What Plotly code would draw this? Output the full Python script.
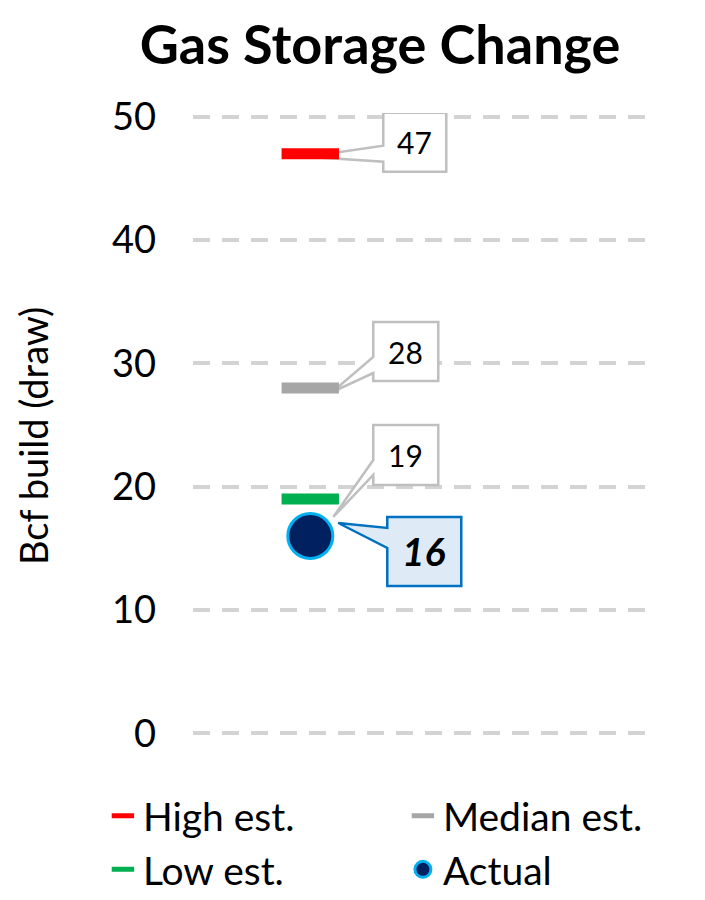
import plotly.graph_objects as go

# ---- data ----
series_names = ["High est.", "Median est.", "Low est.", "Actual"]
series_values = [47, 28, 19, 16]
x_pos = [0]
y_ticks = [0, 10, 20, 30, 40, 50]
title_text = "Gas Storage Change"
y_title = "Bcf build (draw)"

# ---- styles ----
FONT = "Lato"
colors = ["#ff0000", "#a6a6a6", "#00b050", "#002060"]

# callout geometry, pixel offsets relative to the data point (y up):
# box x0, x1, ytop, ybot ; wedge base y high, low ; tip x, y
callouts = [
    dict(box=(73, 136, 41, -18), wb=(8, -8), tip=(-3, -3), line="#bfbfbf", fill="white",
         font=dict(family=FONT, size=30, color="black"), txt="{}"),
    dict(box=(63, 128, 66, 7), wb=(31, 15), tip=(22, -4), line="#bfbfbf", fill="white",
         font=dict(family=FONT, size=30, color="black"), txt="{}"),
    dict(box=(63, 128, 74, 14), wb=(39, 24), tip=(23, -18), line="#bfbfbf", fill="white",
         font=dict(family=FONT, size=30, color="black"), txt="{}"),
    dict(box=(77, 151, 19, -50), wb=(8, -12), tip=(28, 13), line="#0070c0", fill="#deebf7",
         font=dict(family=FONT, size=39, color="black"), txt="<b><i>{}</i></b>"),
]

fig = go.Figure()

for i, (name, val) in enumerate(zip(series_names, series_values)):
    if name == "Actual":
        marker = dict(symbol="circle", size=45, color=colors[i],
                      line=dict(color="#00b0f0", width=3))
    else:
        marker = dict(symbol="line-ew", size=41, color=colors[i],
                      line=dict(color=colors[i], width=11))
    fig.add_trace(go.Scatter(x=x_pos, y=[val], mode="markers", name=name,
                             marker=marker, hoverinfo="skip"))

shapes = []
annotations = []
for c, val in zip(callouts, series_values):
    x0, x1, yt, yb = c["box"]
    wh, wl = c["wb"]
    tx, ty = c["tip"]
    path = (f"M {x0},{yt} L {x1},{yt} L {x1},{yb} L {x0},{yb} "
            f"L {x0},{wl} L {tx},{ty} L {x0},{wh} Z")
    shapes.append(dict(type="path", xref="x", yref="y", xsizemode="pixel", ysizemode="pixel",
                       xanchor=x_pos[0], yanchor=val, path=path,
                       line=dict(color=c["line"], width=2.5), fillcolor=c["fill"],
                       layer="between"))
    annotations.append(dict(x=x_pos[0], y=val, xref="x", yref="y", showarrow=False,
                            text=c["txt"].format(val), font=c["font"],
                            xshift=(x0 + x1) / 2, yshift=(yt + yb) / 2,
                            xanchor="center", yanchor="middle"))

annotations.append(dict(x=-0.352, y=0.482, xref="paper", yref="paper", showarrow=False,
                        text=y_title, textangle=-90,
                        font=dict(family=FONT, size=38, color="black"),
                        xanchor="center", yanchor="middle"))

fig.update_layout(
    width=689, height=884,
    margin=dict(l=185, r=49, t=105, b=155, autoexpand=False),
    paper_bgcolor="white", plot_bgcolor="white",
    title=dict(text=f"<b>{title_text}</b>", x=0.540, xref="container", xanchor="center",
               y=0.9585, yref="container", yanchor="middle",
               font=dict(family=FONT, size=54, color="black")),
    xaxis=dict(range=[-0.5, 1.44], showgrid=False, zeroline=False, showticklabels=False,
               showline=False, fixedrange=True),
    yaxis=dict(range=[-0.3, 50.3], tickvals=y_ticks, showgrid=True, gridcolor="#d3d3d3",
               gridwidth=4, griddash="17px,12px", zeroline=False, showline=False,
               ticks="", ticklabelstandoff=36,
               tickfont=dict(family=FONT, size=38, color="black")),
    showlegend=True,
    legend=dict(orientation="h", x=-0.198, xanchor="left", y=-0.075, yanchor="top",
                entrywidth=255, entrywidthmode="pixels", traceorder="normal",
                tracegroupgap=0, itemwidth=30,
                font=dict(family=FONT, size=39, color="black"), itemclick=False),
    shapes=shapes,
    annotations=annotations,
)

fig.write_html("out.html")
